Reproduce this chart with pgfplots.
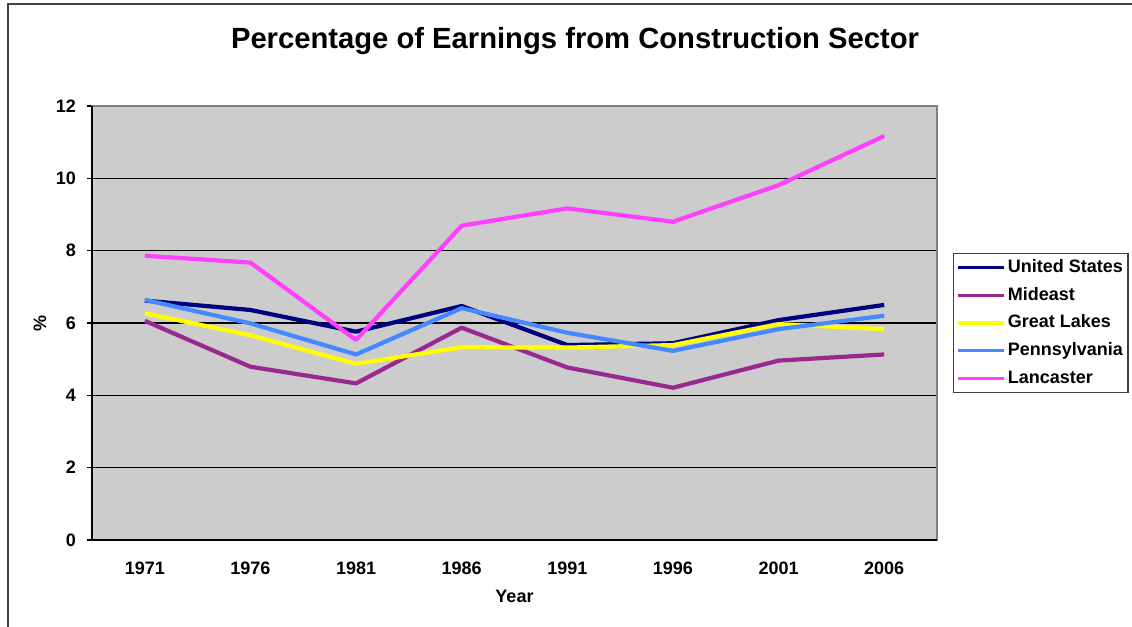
\documentclass[border=0pt]{standalone}
\usepackage{pgfplots}
\pgfplotsset{compat=1.18}
\usepackage{fontspec}
\setmainfont{Liberation Sans}
\definecolor{usblue}{RGB}{0,0,128}
\definecolor{mideast}{RGB}{153,40,143}
\definecolor{greatlakes}{RGB}{255,255,0}
\definecolor{penn}{RGB}{70,136,255}
\definecolor{lanc}{RGB}{255,64,255}
\definecolor{plotbg}{RGB}{204,204,204}
\pgfplotstableread{
x us mideast greatlakes penn lanc
0 6.62 6.06 6.27 6.64 7.86
1 6.36 4.79 5.66 5.99 7.67
2 5.76 4.33 4.87 5.13 5.53
3 6.47 5.87 5.33 6.41 8.69
4 5.39 4.77 5.32 5.73 9.17
5 5.44 4.21 5.39 5.23 8.80
6 6.08 4.96 5.97 5.83 9.81
7 6.50 5.13 5.83 6.20 11.17
}\datatable
\begin{document}
\begin{tikzpicture}
\useasboundingbox (0,0) rectangle (566pt,313.5pt);
\draw[line width=0.8pt, black!75] (4pt,0pt) -- (4pt,311.5pt) -- (566pt,311.5pt);
\node[font=\bfseries\fontsize{14.6}{16}\selectfont] at (287.5pt,293pt) {Percentage of Earnings from Construction Sector};
\begin{axis}[
  at={(46pt,43.5pt)}, anchor=south west,
  scale only axis, width=422.5pt, height=217pt,
  xmin=-0.5, xmax=7.5, ymin=0, ymax=12,
  xtick=data,
  xticklabels={1971,1976,1981,1986,1991,1996,2001,2006},
  ytick={0,2,4,6,8,10,12},
  ytick pos=left,
  ymajorgrids,
  grid style={black, line width=0.6pt},
  axis background/.style={fill=plotbg},
  axis line style={draw=black!50, line width=0.8pt},
  xtick style={draw=none},
  ytick style={black, line width=0.6pt},
  tick align=outside,
  major tick length=2.5pt,
  ticklabel style={font=\bfseries\fontsize{9}{10}\selectfont},
  /pgf/number format/assume math mode=true,
  yticklabel style={xshift=-2pt},
  xticklabel style={yshift=-5pt},
  xlabel={Year}, ylabel={\%},
  label style={font=\bfseries\fontsize{9}{10}\selectfont},
  xlabel style={at={(axis description cs:0.5,-0.131)}, anchor=center},
  ylabel style={at={(axis description cs:-0.0615,0.5)}, anchor=center},
  legend style={at={(axis description cs:1.019,0.5)}, anchor=west,
    draw=black!75, line width=0.6pt, fill=white,
    font=\bfseries\fontsize{9}{10}\selectfont,
    inner sep=1.5pt, row sep=2.9pt,
    nodes={inner sep=1pt, text height=7pt, text depth=2pt}},
  legend cell align=left,
  legend image code/.code={\draw[#1, line width=1.6pt] (0pt,0pt) -- (23pt,0pt);},
  every axis plot/.append style={line width=2.1pt, mark=none, line join=round},
  clip=false,
]
\addplot[usblue] table[x=x,y=us] {\datatable};
\addlegendentry{United States}
\addplot[mideast] table[x=x,y=mideast] {\datatable};
\addlegendentry{Mideast}
\addplot[greatlakes] table[x=x,y=greatlakes] {\datatable};
\addlegendentry{Great Lakes}
\addplot[penn] table[x=x,y=penn] {\datatable};
\addlegendentry{Pennsylvania}
\addplot[lanc] table[x=x,y=lanc] {\datatable};
\addlegendentry{Lancaster}
\draw[black, line width=0.8pt] (rel axis cs:0,1) -- (rel axis cs:0,0) -- (rel axis cs:1,0);
\end{axis}
\end{tikzpicture}
\end{document}
